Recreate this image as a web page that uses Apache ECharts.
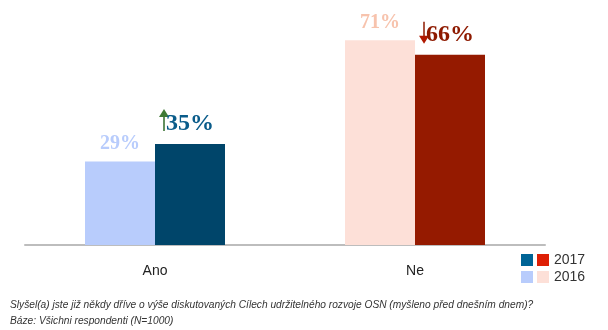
<!DOCTYPE html>
<html><head><meta charset="utf-8">
<script src="https://cdn.jsdelivr.net/npm/echarts@6/dist/echarts.min.js"></script>
<style>html,body{margin:0;padding:0;background:#fff}#c{width:608px;height:330px}</style>
</head><body><div id="c"></div>
<script>
const categories = ['Ano', 'Ne'];
const values2016 = [29, 71];
const values2017 = [35, 66];
const colors2016 = ['#b8ccfc', '#fde0d8'];
const colors2017 = ['#00456a', '#951a00'];
const labelColors2016 = ['#b8ccfc', '#f7c3ad'];
const labelColors2017 = ['#0a5c8a', '#8e1a00'];
const trend = ['up', 'down'];
const legendYears = ['2017', '2016'];
const footnotes = ['Slyšel(a) jste již někdy dříve o výše diskutovaných Cílech udržitelného rozvoje OSN (myšleno před dnešním dnem)?', 'Báze: Všichni respondenti (N=1000)'];

const chart = echarts.init(document.getElementById('c'));
const serif = '"Liberation Serif","Times New Roman",serif';
function mk(vals, cols, lcols) {
  return vals.map((v, i) => ({
    value: v,
    itemStyle: { color: cols[i] },
    label: { color: lcols[i] }
  }));
}
chart.setOption({
  animation: false,
  grid: { left: 25, right: 63, top: 0, bottom: 85 },
  xAxis: {
    type: 'category', data: categories,
    axisLine: { lineStyle: { color: '#bdbdbd', width: 2 } },
    axisTick: { show: false },
    axisLabel: { color: '#222', fontSize: 14, fontFamily: '"Liberation Sans",Arial,sans-serif', margin: 19 }
  },
  yAxis: { type: 'value', min: 0, max: 85, show: false, splitLine: { show: false } },
  series: [
    { name: '2016', type: 'bar', barWidth: 70, barGap: '0%', data: mk(values2016, colors2016, labelColors2016),
      label: { show: true, position: 'top', distance: 8, formatter: '{c}%', fontFamily: serif, fontWeight: 'bold', fontSize: 20 } },
    { name: '2017', type: 'bar', barWidth: 70, barGap: '0%', data: mk(values2017, colors2017, labelColors2017),
      label: { show: true, position: 'top', distance: 8, formatter: '{c}%', fontFamily: serif, fontWeight: 'bold', fontSize: 24 } }
  ]
});

// annotations: arrows, legend, footnotes
const g = [];
categories.forEach((c, i) => {
  const p = chart.convertToPixel({ xAxisIndex: 0, yAxisIndex: 0 }, [i, values2017[i]]);
  const x = p[0] + 9;
  if (trend[i] === 'up') {
    const top = p[1] - 35, bot = p[1] - 13;
    g.push({ type: 'line', shape: { x1: x, y1: top + 6, x2: x, y2: bot }, style: { stroke: '#2f6b2a', lineWidth: 1.5 } });
    g.push({ type: 'polygon', shape: { points: [[x - 5, top + 8], [x + 5, top + 8], [x, top]] }, style: { fill: '#3f7a35' } });
  } else {
    const top = p[1] - 33, bot = p[1] - 11;
    g.push({ type: 'line', shape: { x1: x, y1: top, x2: x, y2: bot - 6 }, style: { stroke: '#8e1a00', lineWidth: 1.5 } });
    g.push({ type: 'polygon', shape: { points: [[x - 5, bot - 8], [x + 5, bot - 8], [x, bot]] }, style: { fill: '#b01800' } });
  }
});
const legendSw = [['#006496', '#de1f05'], ['#b8ccfc', '#fde0d8']];
legendYears.forEach((y, r) => {
  const yy = 254 + r * 17;
  g.push({ type: 'rect', shape: { x: 521, y: yy, width: 12, height: 12 }, style: { fill: legendSw[r][0] } });
  g.push({ type: 'rect', shape: { x: 537, y: yy, width: 12, height: 12 }, style: { fill: legendSw[r][1] } });
  g.push({ type: 'text', x: 554, y: yy + 6, style: { text: y, fill: '#333', font: '14px "Liberation Sans",Arial,sans-serif', textVerticalAlign: 'middle' } });
});
footnotes.forEach((t, i) => {
  g.push({ type: 'text', x: 10, y: 305 + i * 16, style: { text: t, fill: '#333', font: 'italic 10.2px "Liberation Sans",Arial,sans-serif', textVerticalAlign: 'middle' } });
});
chart.setOption({ graphic: g });
</script></body></html>
